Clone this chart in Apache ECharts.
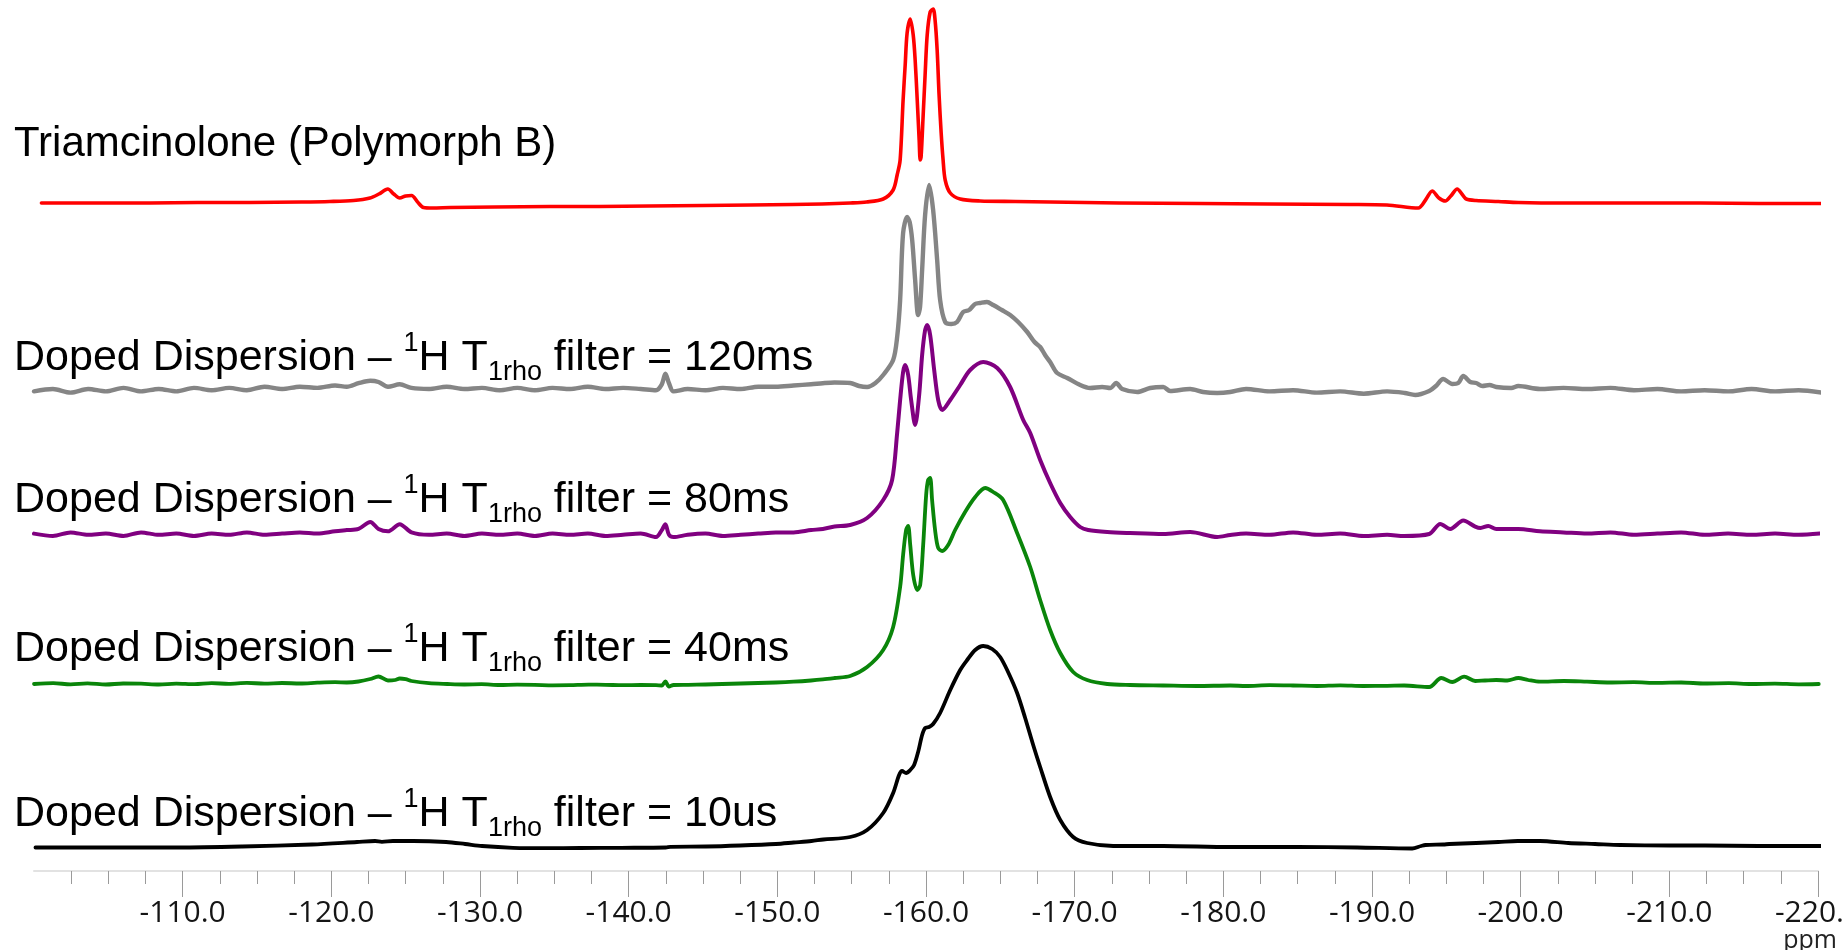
<!DOCTYPE html>
<html>
<head>
<meta charset="utf-8">
<script src="https://cdn.jsdelivr.net/npm/echarts@6/dist/echarts.min.js"></script>
<style>html,body{margin:0;padding:0;background:#fff;overflow:hidden}#c{width:1843px;height:950px}</style>
</head>
<body>
<div id="c"></div>
<script>
// ppm axis tick labels
const majorTicks = [-110, -120, -130, -140, -150, -160, -170, -180, -190, -200, -210, -220];

// Spectra: [ppm, intensity (a.u., relative to each trace's own baseline)]
const redSpectrum = [
[-100.5,2],[-104,2],[-107.8,2],[-111,2.5],[-114.5,2.5],[-118,3],[-119.9,3.5],[-121.5,4.5],[-122.6,7],[-123.2,11],[-123.8,16],[-124.2,11],[-124.6,7],[-125.0,9],[-125.4,9.5],[-125.8,3],[-126.2,-2.5],[-126.8,-3],[-128,-2.5],[-131,-2],[-134.7,-1.5],[-138,-1.5],[-141.4,-1],[-145,-0.5],[-148.2,0],[-151,0.5],[-153,1],[-154.9,2],[-156.0,3],[-157.12,6],[-157.79,15],[-158.06,30],[-158.26,45],[-158.46,105],[-158.6,140],[-158.73,172],[-158.94,186],[-159.14,170],[-159.27,145],[-159.41,105],[-159.54,65],[-159.61,45],[-159.67,48],[-159.81,90],[-159.94,130],[-160.08,170],[-160.28,193],[-160.48,196],[-160.61,185],[-160.75,155],[-160.88,110],[-161.02,72],[-161.15,45],[-161.29,25],[-161.63,12],[-162.3,6],[-163.64,4],[-166,3.5],[-168.35,3],[-173,2],[-178.4,1.5],[-183,1],[-188.5,0.5],[-191,0],[-193.11,-3],[-193.6,5],[-194.05,14],[-194.5,7],[-194.93,4],[-195.3,9],[-195.73,16],[-196.1,10],[-196.34,6],[-197,4.5],[-198.5,3.5],[-199.84,2.5],[-203,2],[-207,2],[-212.1,2],[-216,1.5],[-220.3,1.5]
];
const graySpectrum = [
[-100.0,0.6],[-101.27,3.0],[-102.46,-0.6],[-103.64,3.0],[-104.83,0.6],[-106.02,4.1],[-107.20,0.6],[-108.39,3.0],[-109.57,0.6],[-110.76,4.1],[-111.95,1.8],[-113.13,4.1],[-114.32,1.8],[-115.50,5.3],[-116.69,3.0],[-117.88,5.3],[-119.06,4.1],[-120.25,6.5],[-121.04,5.3],[-121.83,8.8],[-122.62,11.2],[-123.17,10.0],[-123.81,5.3],[-124.60,7.7],[-125.39,4.1],[-126.57,3.0],[-127.76,5.3],[-128.95,3.0],[-130.13,4.1],[-131.32,1.8],[-132.51,4.1],[-133.69,1.8],[-134.88,4.1],[-136.06,3.0],[-137.25,5.3],[-138.44,3.0],[-139.62,4.1],[-140.81,3.0],[-141.84,1.8],[-142.23,7.7],[-142.47,18.2],[-142.71,8.8],[-143.02,0.6],[-143.97,3.0],[-145.16,1.8],[-146.34,4.1],[-147.53,3.0],[-148.72,5.3],[-149.90,5.3],[-151.09,6.5],[-152.27,7.7],[-153.06,8.8],[-153.85,9.5],[-154.9,9],[-155.5,6],[-156.04,5],[-156.6,9],[-157.12,17],[-157.79,32],[-158.06,55],[-158.26,92],[-158.46,159],[-158.73,175],[-158.9,170],[-159.07,152],[-159.27,112],[-159.47,77],[-159.6,85],[-159.74,122],[-159.94,177],[-160.21,207],[-160.48,182],[-160.75,132],[-160.95,92],[-161.29,70],[-161.7,68],[-162.09,70],[-162.5,80],[-162.9,82],[-163.3,88],[-163.64,89],[-164.1,90],[-164.52,87],[-165.1,82],[-165.66,77],[-166.2,70],[-166.81,60],[-167.3,50],[-167.68,45],[-168.01,37],[-168.35,30],[-168.82,19],[-169.50,14],[-170.37,7],[-171.04,4],[-171.85,5],[-172.39,4],[-172.79,9],[-173.20,3],[-174.21,0],[-175.08,4],[-175.96,5],[-176.42,1],[-177.77,3],[-178.64,0],[-179.59,-1],[-180.46,0],[-181.53,3.0],[-183.11,0.6],[-184.69,1.8],[-186.28,-0.6],[-187.86,0.6],[-189.44,-1.7],[-191.02,0.6],[-192.2,-1],[-192.91,-3],[-193.85,1],[-194.3,6],[-194.79,13],[-195.40,8],[-195.8,9],[-196.14,16],[-196.61,10],[-197.0,9],[-197.42,6],[-197.9,7],[-198.36,5],[-199.37,4],[-199.84,6],[-201.3,3],[-202.88,4.1],[-204.46,3.0],[-206.04,4.1],[-207.62,1.8],[-209.20,3.0],[-210.79,0.6],[-212.37,1.8],[-213.95,0.6],[-215.53,3.0],[-217.11,0.6],[-218.69,1.8],[-220.28,-0.6]
];
const purpleSpectrum = [
[-100.0,1.4],[-101.27,-1.0],[-102.46,2.6],[-103.64,0.2],[-104.83,1.4],[-106.02,-1.0],[-107.20,2.6],[-108.39,0.2],[-109.57,1.4],[-110.76,-1.0],[-111.95,1.4],[-113.13,0.2],[-114.32,2.6],[-115.50,0.2],[-116.69,1.4],[-117.88,2.6],[-119.06,1.4],[-120.25,3.7],[-121.04,4.9],[-121.83,6.1],[-122.62,13.1],[-123.17,6.1],[-123.81,3.7],[-124.60,10.8],[-125.39,2.6],[-126.57,0.2],[-127.76,1.4],[-128.95,-1.0],[-130.13,1.4],[-131.32,0.2],[-132.51,1.4],[-133.69,-1.0],[-134.88,1.4],[-136.06,0.2],[-137.25,1.4],[-138.44,-1.0],[-139.62,0.2],[-140.81,1.4],[-141.84,-2.1],[-142.23,4.9],[-142.47,10.8],[-142.71,0.2],[-143.02,-2.1],[-143.97,0.2],[-145.16,1.4],[-146.34,-1.0],[-147.53,0.2],[-148.72,1.4],[-149.90,2.6],[-151.09,2.6],[-152.27,4.9],[-153.06,6.1],[-153.85,8.4],[-154.9,10],[-156.04,17],[-157.12,35],[-157.72,55],[-158.06,102],[-158.26,135],[-158.46,163],[-158.60,170],[-158.80,160],[-159.00,135],[-159.27,110],[-159.54,140],[-159.74,180],[-159.94,205],[-160.08,210],[-160.28,200],[-160.55,165],[-160.82,135],[-161.09,125],[-161.63,135],[-162.30,150],[-162.97,165],[-163.85,173],[-164.79,167],[-165.66,148],[-166.54,115],[-167.01,102],[-167.68,75],[-168.35,52],[-169.03,32],[-169.70,18],[-170.37,8],[-170.91,5],[-172.19,3],[-173.73,2],[-175.96,1],[-177.77,3],[-179.59,-2],[-180.46,0],[-181.53,1.4],[-183.11,0.2],[-184.69,2.6],[-186.28,0.2],[-187.86,1.4],[-189.44,-1.0],[-191.02,0.2],[-192.17,-1],[-193.85,1],[-194.59,11],[-195.26,6],[-196.14,14.5],[-196.94,8.4],[-197.3,7],[-197.82,9],[-198.36,6],[-199.84,6],[-201.3,3.7],[-202.88,2.6],[-204.46,1.4],[-206.04,2.6],[-207.62,0.2],[-209.20,1.4],[-210.79,2.6],[-212.37,0.2],[-213.95,1.4],[-215.53,0.2],[-217.11,1.4],[-218.69,0.2],[-220.12,1.4]
];
const greenSpectrum = [
[-100.0,0],[-101.3,0.8],[-102.46,-0.3],[-103.6,0.6],[-104.83,-0.5],[-106,0.5],[-107.20,0.3],[-108.4,-0.5],[-109.57,0.4],[-110.8,-0.2],[-111.95,0.8],[-113.1,0.2],[-114.32,1.1],[-115.5,0.4],[-116.69,1.0],[-117.9,0.5],[-119.06,1.3],[-120.25,1.8],[-121.04,1.5],[-121.83,2.5],[-122.62,5],[-123.17,7.5],[-123.81,3.5],[-124.3,4],[-124.60,5.5],[-125.0,4.8],[-125.39,3.0],[-126.57,0.8],[-127.8,0],[-128.95,-0.5],[-130.1,-0.2],[-131.32,-1.0],[-132.5,-0.6],[-133.69,-0.8],[-134.9,-1.3],[-136.06,-1.2],[-137.3,-0.7],[-138.44,-0.8],[-139.6,-1.2],[-140.81,-1.0],[-141.84,-1.2],[-142.23,-1.5],[-142.47,2.5],[-142.71,-2.5],[-143.02,-1.0],[-144.0,-0.8],[-145.16,-0.5],[-146.3,0],[-147.53,0.5],[-148.7,1],[-149.90,1.5],[-151.09,2.3],[-152.27,3.5],[-153.06,4.6],[-153.85,6.0],[-154.9,8],[-156.04,17],[-157.12,34],[-157.79,57],[-158.26,97],[-158.46,129],[-158.66,154],[-158.80,158],[-158.94,139],[-159.14,109],[-159.41,94],[-159.61,99],[-159.81,139],[-160.01,189],[-160.14,204],[-160.28,206],[-160.41,184],[-160.61,154],[-160.82,136],[-161.09,133],[-161.49,139],[-161.96,154],[-162.63,172],[-163.31,187],[-163.98,196],[-164.52,192],[-165.19,184],[-166.13,151],[-167.01,117],[-167.68,84],[-168.35,54],[-169.03,31],[-169.90,12],[-170.84,4],[-172.19,0],[-173.73,-1],[-175.96,-1.5],[-178.24,-2],[-180.46,-1.5],[-181.53,-2],[-183.1,-1.2],[-184.69,-1.5],[-186.3,-2],[-187.86,-1.3],[-189.4,-2],[-191.02,-1.8],[-192.17,-1.5],[-193.85,-3],[-194.66,6],[-195.40,2],[-196.20,7.4],[-196.94,3],[-197.6,3.5],[-198.36,4],[-199.1,3.5],[-199.84,6],[-200.5,4],[-201.30,2.3],[-202.9,3],[-204.46,2.3],[-206,1.5],[-207.6,1.8],[-209.2,1.1],[-210.8,1.5],[-212.4,0.5],[-214,0.8],[-215.5,0],[-217.1,0.4],[-218.7,-0.3],[-220.05,0]
];
const blackSpectrum = [
[-100.1,-1.5],[-105,-1.5],[-109.75,-1.5],[-114,-0.5],[-118.7,1.5],[-121.73,4],[-122.94,5],[-123.4,4.2],[-124.15,5],[-125.5,5],[-127.72,4],[-129,2],[-130.14,0],[-132.22,-1.8],[-134.5,-2.2],[-136.73,-2],[-139.5,-1.8],[-142.5,-1.5],[-142.8,-0.8],[-145.2,-0.5],[-147.5,0.5],[-149.9,2],[-151.1,3.5],[-152.3,5],[-153.1,6.5],[-154.9,9],[-156.04,16],[-157.12,33],[-157.79,53],[-158.19,71],[-158.39,75],[-158.66,73],[-158.94,76],[-159.20,81],[-159.47,94],[-159.74,111],[-159.94,118],[-160.21,119],[-160.48,122],[-160.95,133],[-161.63,156],[-162.30,176],[-162.77,186],[-163.31,196],[-163.85,200],[-164.45,197],[-164.99,189],[-165.52,174],[-166.13,153],[-166.67,128],[-167.21,101],[-167.68,79],[-168.35,49],[-169.03,26],[-169.90,9],[-170.84,3],[-172.59,0],[-175.96,0],[-180.46,-1],[-185,-1],[-189,-1.5],[-192.7,-2.5],[-193.3,0],[-193.6,1],[-194.8,1.5],[-195.2,2],[-197,3],[-198.5,4],[-199.8,5],[-201.3,5],[-203.2,3],[-205,2],[-206.7,1],[-210,0.5],[-212.4,0.5],[-216,0],[-220.3,0]
];

const spectra = [redSpectrum, graySpectrum, purpleSpectrum, greenSpectrum, blackSpectrum];
const seriesNames = ['Triamcinolone (Polymorph B)', '120ms', '80ms', '40ms', '10us'];
const stackOffsets = [666, 479, 336, 187, 25];
const traceColors = ['#ff0000', '#858585', '#800080', '#0a850a', '#000000'];
const traceWidths = [3.6, 4.4, 4.0, 3.8, 3.8];

// Trace labels (rich text: s = superscript, b = subscript)
const traceLabels = [
  '{t|Triamcinolone (Polymorph B)}',
  '{m|Doped Dispersion – }{s|1}{m|H T}{b|1rho}{m| filter = 120ms}',
  '{m|Doped Dispersion – }{s|1}{m|H T}{b|1rho}{m| filter = 80ms}',
  '{m|Doped Dispersion – }{s|1}{m|H T}{b|1rho}{m| filter = 40ms}',
  '{m|Doped Dispersion – }{s|1}{m|H T}{b|1rho}{m| filter = 10us}'
];
const labelTops = [123, 330, 472, 621, 786];

const chart = echarts.init(document.getElementById('c'), null, {renderer: 'canvas'});

const FONT = '"Liberation Sans", Arial, Helvetica, sans-serif';
const rich = {
  t: {fontSize: 42, fontFamily: FONT, lineHeight: 56, fill: '#000', color: '#000'},
  m: {fontSize: 43, fontFamily: FONT, lineHeight: 56, fill: '#000', color: '#000'},
  s: {fontSize: 27, fontFamily: FONT, lineHeight: 40, verticalAlign: 'top', fill: '#000', color: '#000'},
  b: {fontSize: 27, fontFamily: FONT, lineHeight: 32, verticalAlign: 'bottom', fill: '#000', color: '#000'}
};

const option = {
  animation: false,
  backgroundColor: '#fff',
  grid: {left: 34, right: 25, top: 0, bottom: 79, containLabel: false, outerBoundsMode: 'none'},
  xAxis: {
    type: 'value',
    min: -220, max: -100, interval: 10, inverse: true,
    axisLine: {show: true, lineStyle: {color: '#e2e2e2', width: 2}},
    axisTick: {show: true, length: 26, lineStyle: {color: '#9a9a9a', width: 1}, customValues: majorTicks},
    minorTick: {show: true, splitNumber: 4, length: 13, lineStyle: {color: '#9a9a9a', width: 1}},
    splitLine: {show: false},
    axisLabel: {
      customValues: majorTicks,
      formatter: v => (v > -105 ? '' : Number(v).toFixed(1)),
      margin: 27, fontFamily: '"Open Sans", sans-serif', fontSize: 30, color: '#151515',
      showMaxLabel: true, showMinLabel: true, hideOverlap: false
    }
  },
  yAxis: {type: 'value', min: 0, max: 871, show: false},
  series: spectra.map((sp, i) => ({
    name: seriesNames[i],
    type: 'line',
    data: sp.map(p => [p[0], p[1] + stackOffsets[i]]),
    showSymbol: false,
    symbol: 'none',
    smooth: 0.3,
    clip: false,
    silent: true,
    z: 5 - i,
    lineStyle: {color: traceColors[i], width: traceWidths[i], join: 'round', cap: 'round'}
  })),
  graphic: traceLabels.map((t, i) => ({
    type: 'text', left: 14, top: labelTops[i], silent: true,
    style: {text: t, rich: rich, fill: '#000'}
  })).concat([{
    type: 'text', right: 6, top: 927, silent: true,
    style: {text: 'ppm', fontSize: 25, lineHeight: 27, fontFamily: '"Open Sans", sans-serif', fill: '#222'}
  }])
};
chart.setOption(option);
</script>
</body>
</html>
